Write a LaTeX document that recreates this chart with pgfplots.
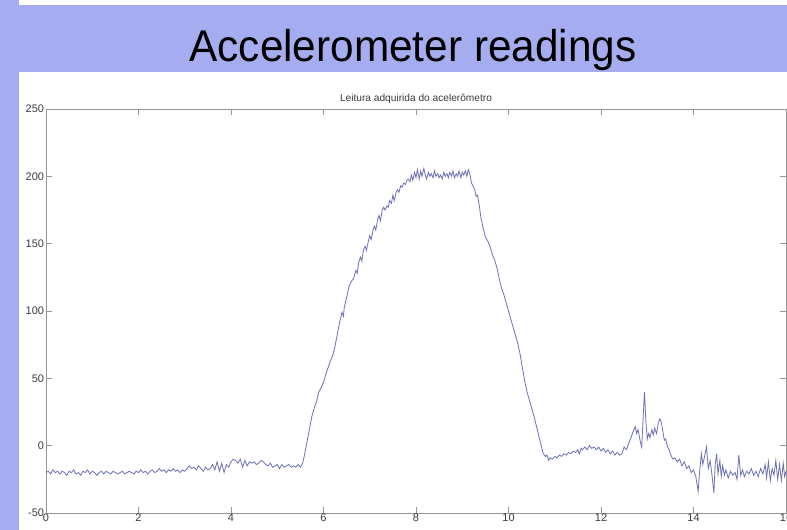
\documentclass[border=0pt]{standalone}
\usepackage{pgfplots}
\pgfplotsset{compat=1.18}
\usepackage{fontspec}
\setmainfont{Liberation Sans}
\definecolor{slidebg}{RGB}{166,172,240}
\definecolor{linecol}{RGB}{108,112,180}
\definecolor{axcol}{RGB}{150,150,150}
\definecolor{tkcol}{RGB}{60,60,60}
\begin{document}
\begin{tikzpicture}
\path[use as bounding box] (0bp,0bp) rectangle (787bp,530bp);
\clip (0bp,0bp) rectangle (787bp,530bp);
\fill[slidebg] (0bp,0bp) rectangle (787bp,530bp);
\fill[white] (19bp,525bp) rectangle (787bp,530bp);
\fill[white] (19bp,0bp) rectangle (787bp,458bp);
\node[anchor=base, font=\fontsize{42.5}{42.5}\selectfont, inner sep=0pt, yscale=1.05] at (413bp,468.5bp) {Accelerometer readings};
\begin{axis}[
  scale only axis, width=740bp, height=404bp,
  at={(46bp,17bp)}, anchor=south west,
  xmin=0, xmax=16, ymin=-50, ymax=250,
  xtick={0,2,...,16}, ytick={-50,0,...,250},
  tick align=inside, major tick length=6bp,
  axis line style={axcol, line width=0.8pt},
  every tick/.style={axcol, line width=0.7pt},
  /pgf/number format/assume math mode=true,
  ticklabel style={font=\fontsize{11}{11}\selectfont, text=tkcol},
  xticklabel style={yshift=2.5bp},
  yticklabel style={xshift=1.5bp},
  title={Leitura adquirida do acelerômetro},
  title style={font=\fontsize{10.2}{11}\selectfont, text=tkcol, yshift=-4bp},
]
\addplot[linecol, line width=0.8pt] coordinates {
(0.00,-20)(0.05,-19)(0.10,-21)(0.15,-18)(0.20,-20)(0.25,-19)(0.30,-21)(0.35,-19)(0.40,-20)(0.45,-22)
(0.50,-19)(0.55,-20)(0.60,-18)(0.65,-21)(0.70,-20)(0.75,-22)(0.80,-19)(0.85,-20)(0.90,-18)(0.95,-21)
(1.00,-19)(1.05,-20)(1.10,-22)(1.15,-20)(1.20,-19)(1.25,-21)(1.30,-19)(1.35,-20)(1.40,-21)(1.45,-19)
(1.50,-20)(1.55,-21)(1.60,-20)(1.65,-19)(1.70,-21)(1.75,-20)(1.80,-19)(1.85,-20)(1.90,-21)(1.95,-19)
(2.00,-20)(2.05,-18)(2.10,-20)(2.15,-19)(2.20,-21)(2.25,-19)(2.30,-18)(2.35,-20)(2.40,-19)(2.45,-17)
(2.50,-19)(2.55,-18)(2.60,-20)(2.65,-18)(2.70,-19)(2.75,-17)(2.80,-19)(2.85,-18)(2.90,-20)(2.95,-18)
(3.00,-19)(3.05,-17)(3.10,-15)(3.15,-17)(3.20,-16)(3.25,-18)(3.30,-15)(3.35,-17)(3.40,-19)(3.45,-16)
(3.50,-18)(3.55,-17)(3.60,-14)(3.65,-18)(3.70,-12)(3.75,-19)(3.80,-13)(3.85,-20)(3.90,-14)(3.95,-16)
(4.00,-12)(4.05,-10)(4.10,-11)(4.15,-13)(4.20,-10)(4.25,-16)(4.30,-11)(4.35,-15)(4.40,-12)(4.45,-13)
(4.50,-12)(4.55,-14)(4.60,-13)(4.65,-11)(4.70,-12)(4.75,-14)(4.80,-15)(4.85,-13)(4.90,-16)(4.95,-15)
(5.00,-14)(5.05,-17)(5.10,-14)(5.15,-16)(5.20,-15)(5.25,-14)(5.30,-16)(5.35,-15)(5.40,-16)(5.45,-14)
(5.50,-16)(5.55,-13)(5.60,-5)(5.65,4)(5.70,13)(5.75,22)(5.80,28)(5.85,33)(5.90,40)(5.95,43)
(6.00,47)(6.05,53)(6.10,58)(6.15,63)(6.20,67)(6.25,74)(6.30,83)(6.35,92)(6.40,99)(6.43,96)
(6.45,103)(6.50,110)(6.55,118)(6.60,122)(6.65,124)(6.70,130)(6.73,128)(6.76,136)(6.80,140)(6.83,137)
(6.86,145)(6.90,148)(6.93,145)(6.97,152)(7.00,156)(7.03,153)(7.07,160)(7.10,163)(7.13,160)(7.17,168)
(7.20,171)(7.23,167)(7.27,175)(7.30,177)(7.33,175)(7.37,178)(7.40,177)(7.43,182)(7.47,180)(7.50,186)
(7.53,182)(7.57,188)(7.60,190)(7.63,188)(7.67,193)(7.70,192)(7.73,195)(7.77,194)(7.80,197)(7.83,198)
(7.87,196)(7.90,201)(7.93,197)(7.97,203)(8.00,199)(8.03,205)(8.07,198)(8.10,204)(8.13,200)(8.17,206)
(8.20,201)(8.23,198)(8.27,203)(8.30,200)(8.33,202)(8.37,199)(8.40,204)(8.43,200)(8.47,202)(8.50,199)
(8.53,201)(8.57,198)(8.60,203)(8.63,200)(8.67,202)(8.70,199)(8.73,203)(8.77,200)(8.80,204)(8.83,199)
(8.87,202)(8.90,200)(8.93,204)(8.97,199)(9.00,203)(9.03,201)(9.07,204)(9.10,200)(9.13,205)(9.17,201)
(9.20,195)(9.23,193)(9.27,190)(9.30,185)(9.33,186)(9.37,178)(9.40,170)(9.45,162)(9.50,155)(9.55,152)
(9.60,148)(9.65,142)(9.70,138)(9.75,132)(9.80,124)(9.85,117)(9.90,112)(9.95,106)(10.00,100)(10.05,94)
(10.10,88)(10.15,82)(10.20,76)(10.25,68)(10.30,58)(10.35,48)(10.40,40)(10.45,34)(10.50,28)(10.55,22)
(10.60,15)(10.65,8)(10.70,1)(10.75,-6)(10.80,-8)(10.83,-7)(10.87,-11)(10.90,-9)(10.95,-10)(11.00,-8)
(11.05,-9)(11.10,-7)(11.15,-8)(11.20,-6)(11.25,-7)(11.30,-5)(11.35,-6)(11.40,-4)(11.45,-5)(11.50,-3)
(11.53,-6)(11.57,-2)(11.60,-3)(11.65,-1)(11.70,-3)(11.75,0)(11.80,-2)(11.85,-1)(11.90,-3)(11.95,-1)
(12.00,-4)(12.05,-2)(12.10,-5)(12.15,-3)(12.20,-6)(12.25,-4)(12.30,-7)(12.35,-5)(12.40,-7)(12.45,-6)
(12.50,-1)(12.55,-3)(12.60,2)(12.65,6)(12.70,11)(12.74,14)(12.77,9)(12.80,12)(12.85,3)(12.88,-1)
(12.91,20)(12.94,40)(12.97,18)(13.00,5)(13.03,9)(13.06,6)(13.10,12)(13.13,8)(13.16,13)(13.20,9)
(13.24,17)(13.27,20)(13.30,18)(13.33,12)(13.37,4)(13.40,5)(13.43,0)(13.47,-3)(13.50,-6)(13.55,-10)
(13.60,-9)(13.65,-12)(13.70,-10)(13.75,-15)(13.80,-12)(13.85,-17)(13.90,-15)(13.95,-20)(14.00,-18)(14.05,-23)
(14.10,-34)(14.13,-20)(14.17,-6)(14.20,-14)(14.24,-8)(14.28,-1)(14.32,-17)(14.36,-11)(14.40,-22)(14.44,-35)
(14.47,-14)(14.50,-6)(14.53,-21)(14.57,-11)(14.60,-23)(14.63,-15)(14.67,-22)(14.70,-18)(14.75,-24)(14.80,-19)
(14.85,-22)(14.90,-20)(14.94,-25)(14.98,-7)(15.02,-22)(15.06,-18)(15.10,-23)(15.15,-19)(15.20,-21)(15.25,-17)
(15.30,-22)(15.35,-19)(15.40,-23)(15.45,-17)(15.50,-21)(15.55,-14)(15.58,-24)(15.62,-12)(15.66,-26)(15.70,-17)
(15.74,-22)(15.78,-11)(15.82,-25)(15.86,-14)(15.90,-26)(15.94,-13)(15.97,-23)(16.00,-19)
};
\end{axis}
\end{tikzpicture}
\end{document}
